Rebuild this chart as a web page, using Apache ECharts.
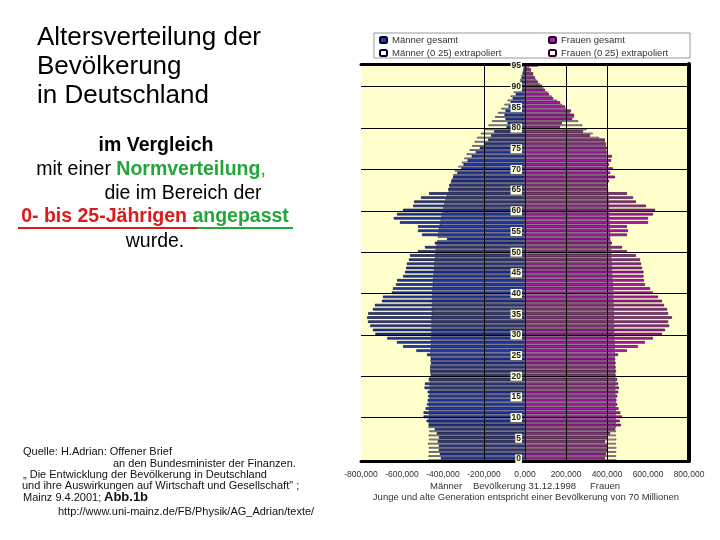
<!DOCTYPE html>
<html><head><meta charset="utf-8">
<script src="https://cdn.jsdelivr.net/npm/echarts@6/dist/echarts.min.js"></script>
<style>html,body{margin:0;padding:0;background:#fff}#c{width:720px;height:540px}</style>
</head><body><div id="c"></div>
<script>
// Age categories 0..95
const ages = ['0','1','2','3','4','5','6','7','8','9','10','11','12','13','14','15','16','17','18','19',
 '20','21','22','23','24','25','26','27','28','29','30','31','32','33','34','35','36','37','38','39',
 '40','41','42','43','44','45','46','47','48','49','50','51','52','53','54','55','56','57','58','59',
 '60','61','62','63','64','65','66','67','68','69','70','71','72','73','74','75','76','77','78','79',
 '80','81','82','83','84','85','86','87','88','89','90','91','92','93','94','95'];

// Values in thousands of persons
const menActual = [410,415,420,420,425,420,430,440,470,480,
 495,495,485,478,475,472,475,490,488,470,
 460,462,462,458,460,478,530,595,625,672,
 730,742,755,766,770,765,742,732,698,693,
 650,644,629,624,595,585,580,576,566,561,
 522,488,440,380,502,522,522,610,640,624,
 595,546,541,507,468,375,370,360,350,330,
 310,300,280,260,240,220,200,180,165,150,
 90,85,95,100,95,80,70,60,45,38,
 30,22,17,12,8,15];
const menExtra = [472,471,470,469,473,468,470,467,471,470,
 470,469,468,467,468,466,466,465,466,464,
 465,463,464,462,462,461,461,460,459,459,
 458,457,457,456,456,455,455,454,454,453,
 453,452,450,450,448,447,445,443,441,439,
 437,435,432,429,426,423,420,416,412,408,
 404,399,394,388,381,372,368,362,356,350,
 342,325,308,296,285,270,258,246,234,215,
 195,178,161,146,132,115,100,85,70,55,
 42,32,24,17,11,6];
const womenActual = [390,395,400,400,390,400,415,440,468,462,
 473,465,456,450,446,450,455,458,454,450,
 442,444,442,442,440,454,497,551,585,624,
 668,683,703,698,717,698,693,678,668,649,
 624,610,585,580,578,578,571,566,561,541,
 497,473,424,415,497,502,497,600,600,624,
 634,590,541,527,497,405,400,410,439,415,
 429,410,420,424,400,400,395,390,317,283,
 170,180,230,239,224,195,171,137,117,98,
 83,62,49,40,29,63];
const womenExtra = [446,444,445,446,443,445,443,444,445,443,
 443,442,443,441,442,442,441,441,440,441,
 440,439,440,438,439,438,438,437,437,436,
 436,435,435,434,434,433,433,432,432,431,
 431,430,429,428,427,426,425,424,423,421,
 421,420,418,418,416,416,414,414,412,412,
 411,410,409,408,407,406,405,404,403,402,
 401,400,399,398,397,396,395,390,360,330,
 300,280,260,240,220,200,180,155,130,110,
 90,72,55,40,28,18];

const xTickLabels = ['-800,000','-600,000','-400,000','-200,000','0,000','200,000','400,000','600,000','800,000'];
const gridAges = ['10','20','30','40','50','60','70','80','90'];
const gridValues = [-200000, 200000, 400000];

const XMIN = -800000, XMAX = 800000, XINT = 200000;
const FONT = 'Liberation Sans, Arial, sans-serif';

const chart = echarts.init(document.getElementById('c'), null, {renderer:'canvas'});

const barCommon = {type:'bar', barGap:'0%', animation:false, z:3};

const option = {
  animation:false,
  grid:{left:361, right:31, top:64, bottom:79, show:true, backgroundColor:'#ffffcc', borderWidth:0},
  legend:[
    {data:['Männer gesamt','Männer (0 25) extrapoliert'], orient:'vertical', left:379, top:35,
     itemWidth:7, itemHeight:6, itemGap:3, padding:0,
     textStyle:{fontSize:9.5, color:'#333', fontFamily:FONT}},
    {data:['Frauen gesamt','Frauen (0 25) extrapoliert'], orient:'vertical', left:548, top:35,
     itemWidth:7, itemHeight:6, itemGap:3, padding:0,
     textStyle:{fontSize:9.5, color:'#333', fontFamily:FONT}}
  ],
  xAxis:[
    {type:'value', min:XMIN, max:XMAX, interval:XINT, position:'bottom', z:10,
     axisLine:{show:true, onZero:false, lineStyle:{color:'#000', width:3}},
     axisTick:{show:false}, splitLine:{show:false},
     axisLabel:{color:'#333', fontSize:8.5, fontFamily:FONT, margin:9,
       formatter:v=>xTickLabels[Math.round((v-XMIN)/XINT)]}},
    {type:'value', min:XMIN, max:XMAX, interval:XINT, position:'top', z:10,
     axisLine:{show:true, onZero:false, lineStyle:{color:'#000', width:3}},
     axisTick:{show:false}, splitLine:{show:false}, axisLabel:{show:false}}
  ],
  yAxis:[
    {type:'category', data:ages, z:10, position:'left', offset:-164,
     axisLine:{show:true, onZero:false, lineStyle:{color:'#111', width:1}},
     axisTick:{show:false}, splitLine:{show:false},
     axisLabel:{interval:4, fontSize:8.5, fontWeight:'bold', color:'#222', fontFamily:FONT,
       backgroundColor:'#ffffd8', padding:[0,1,0,1], margin:3}},
    {type:'category', data:ages, position:'right', z:10,
     axisLine:{show:true, onZero:false, lineStyle:{color:'#000', width:4}},
     axisTick:{show:false}, axisLabel:{show:false}, splitLine:{show:false}}
  ],
  series:[
    {type:'line', data:[], z:1, silent:true, animation:false,
     markLine:{silent:true, symbol:'none', animation:false, label:{show:false},
       lineStyle:{color:'#000', width:1, type:'solid'},
       data: gridAges.map(a=>({yAxis:a})).concat(gridValues.map(v=>({xAxis:v})))}},
    Object.assign({}, barCommon, {name:'Männer gesamt', stack:'act', barWidth:'62%',
      data: menActual.map(v=>-v*1000),
      itemStyle:{color:'#243ca6', borderColor:'#000030', borderWidth:0.6}}),
    Object.assign({}, barCommon, {name:'Männer (0 25) extrapoliert', stack:'ext', barWidth:'38%',
      data: menExtra.map(v=>-v*1000),
      itemStyle:{color:'#ffffff', borderColor:'#000030', borderWidth:0.6}}),
    Object.assign({}, barCommon, {name:'Frauen gesamt', stack:'act', barWidth:'62%',
      data: womenActual.map(v=>v*1000),
      itemStyle:{color:'#ae1eae', borderColor:'#2a0028', borderWidth:0.6}}),
    Object.assign({}, barCommon, {name:'Frauen (0 25) extrapoliert', stack:'ext', barWidth:'38%',
      data: womenExtra.map(v=>v*1000),
      itemStyle:{color:'#ffffff', borderColor:'#2a0028', borderWidth:0.6}})
  ],
  graphic:[
    {type:'rect', z:-1, shape:{x:374, y:33, width:316, height:25}, style:{fill:'#fff', stroke:'#999', lineWidth:1}},
    {type:'text', left:37, top:23, style:{text:'Altersverteilung der\nBevölkerung\nin Deutschland', font:'26px '+FONT, fill:'#000', lineHeight:29}},
    {type:'text', x:156, y:146, style:{text:'im Vergleich', font:'bold 19.5px '+FONT, fill:'#000', align:'center', verticalAlign:'middle'}},
    {type:'text', x:151, y:170, style:{text:'{a|mit einer }{g|Normverteilung}{c|,}', align:'center', verticalAlign:'middle',
      rich:{a:{font:'19.5px '+FONT, fill:'#000'}, g:{font:'bold 19.5px '+FONT, fill:'#22a63a'}, c:{font:'19.5px '+FONT, fill:'#22a63a'}}}},
    {type:'text', x:183, y:194, style:{text:'die im Bereich der', font:'19.5px '+FONT, fill:'#000', align:'center', verticalAlign:'middle'}},
    {type:'text', x:155, y:217, style:{text:'{r|0- bis 25-Jährigen}{g| angepasst}', align:'center', verticalAlign:'middle',
      rich:{r:{font:'bold 19.5px '+FONT, fill:'#e01818'}, g:{font:'bold 19.5px '+FONT, fill:'#22a63a'}}}},
    {type:'line', shape:{x1:18, y1:228, x2:197, y2:228}, style:{stroke:'#e01818', lineWidth:2}},
    {type:'line', shape:{x1:197, y1:228, x2:293, y2:228}, style:{stroke:'#22a63a', lineWidth:2}},
    {type:'text', x:155, y:242, style:{text:'wurde.', font:'19.5px '+FONT, fill:'#000', align:'center', verticalAlign:'middle'}},

    {type:'text', x:23, y:452, style:{text:'Quelle: H.Adrian: Offener Brief', font:'11px '+FONT, fill:'#111', verticalAlign:'middle'}},
    {type:'text', x:113, y:464, style:{text:'an den Bundesminister der Finanzen.', font:'11px '+FONT, fill:'#111', verticalAlign:'middle'}},
    {type:'text', x:23, y:475, style:{text:'„ Die Entwicklung der Bevölkerung in Deutschland', font:'11px '+FONT, fill:'#111', verticalAlign:'middle'}},
    {type:'text', x:22, y:486, style:{text:'und ihre Auswirkungen auf Wirtschaft und Gesellschaft" ;', font:'11px '+FONT, fill:'#111', verticalAlign:'middle'}},
    {type:'text', x:23, y:498, style:{text:'Mainz 9.4.2001;', font:'11px '+FONT, fill:'#111', verticalAlign:'middle'}},
    {type:'text', x:104, y:497, style:{text:'Abb.1b', font:'bold 13px '+FONT, fill:'#111', verticalAlign:'middle'}},
    {type:'text', x:58, y:512, style:{text:'http://www.uni-mainz.de/FB/Physik/AG_Adrian/texte/', font:'11px '+FONT, fill:'#111', verticalAlign:'middle'}},

    {type:'text', x:430, y:486, style:{text:'Männer', font:'9.5px '+FONT, fill:'#333', verticalAlign:'middle'}},
    {type:'text', x:473, y:486, style:{text:'Bevölkerung 31.12.1998', font:'9.5px '+FONT, fill:'#333', verticalAlign:'middle'}},
    {type:'text', x:590, y:486, style:{text:'Frauen', font:'9.5px '+FONT, fill:'#333', verticalAlign:'middle'}},
    {type:'text', x:526, y:497, style:{text:'Junge und alte Generation entspricht einer Bevölkerung von 70 Millionen', font:'9.5px '+FONT, fill:'#333', align:'center', verticalAlign:'middle'}}
  ]
};
chart.setOption(option);
</script>
</body></html>
